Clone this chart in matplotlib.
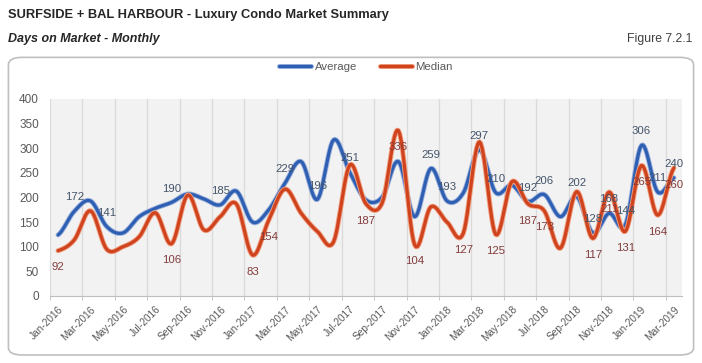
import matplotlib
matplotlib.use("Agg")
import matplotlib.pyplot as plt
import matplotlib.patheffects as pe
from matplotlib.patches import FancyBboxPatch
import numpy as np

plt.rcParams['font.family'] = ['Liberation Sans', 'DejaVu Sans']

# ---------------- data ----------------
months = ['Jan-2016', 'Feb-2016', 'Mar-2016', 'Apr-2016', 'May-2016', 'Jun-2016',
          'Jul-2016', 'Aug-2016', 'Sep-2016', 'Oct-2016', 'Nov-2016', 'Dec-2016',
          'Jan-2017', 'Feb-2017', 'Mar-2017', 'Apr-2017', 'May-2017', 'Jun-2017',
          'Jul-2017', 'Aug-2017', 'Sep-2017', 'Oct-2017', 'Nov-2017', 'Dec-2017',
          'Jan-2018', 'Feb-2018', 'Mar-2018', 'Apr-2018', 'May-2018', 'Jun-2018',
          'Jul-2018', 'Aug-2018', 'Sep-2018', 'Oct-2018', 'Nov-2018', 'Dec-2018',
          'Jan-2019', 'Feb-2019', 'Mar-2019']

average = [124, 172, 193, 141, 128, 161, 178, 190, 207, 197,
           185, 213, 150, 175, 229, 273, 196, 317, 251, 195,
           201, 273, 161, 259, 193, 209, 297, 210, 225, 192,
           206, 161, 202, 128, 168, 144, 306, 211, 240]

median = [92, 114, 173, 95, 100, 120, 169, 106, 205, 134,
          161, 187, 83, 154, 217, 168, 131, 110, 266, 187,
          189, 336, 104, 181, 150, 127, 313, 125, 232, 187,
          173, 97, 212, 117, 211, 131, 265, 164, 260]

# which points carry a data label
avg_labelled = [1, 3, 7, 10, 14, 16, 18, 23, 24, 26, 27, 29, 30, 32, 33, 34, 35, 36, 37, 38]
med_labelled = [0, 7, 12, 13, 19, 21, 22, 25, 27, 29, 30, 33, 34, 35, 36, 37, 38]


def smooth(y, n=12):
    # catmull-rom through the points, like excel's smoothed line
    y = np.asarray(y, dtype=float)
    p = np.concatenate([[y[0]], y, [y[-1]]])
    xs, ys = [], []
    for i in range(len(y) - 1):
        p0, p1, p2, p3 = p[i], p[i + 1], p[i + 2], p[i + 3]
        t = np.linspace(0, 1, n, endpoint=False)
        seg = 0.5 * ((2 * p1) + (-p0 + p2) * t + (2 * p0 - 5 * p1 + 4 * p2 - p3) * t ** 2
                     + (-p0 + 3 * p1 - 3 * p2 + p3) * t ** 3)
        xs.append(i + t)
        ys.append(seg)
    xs.append([len(y) - 1])
    ys.append([y[-1]])
    return np.concatenate(xs), np.concatenate(ys)


blue = '#2f5fb3'
red = '#d0431f'

fig = plt.figure(figsize=(7.02, 3.63), dpi=100)

# outer frame
frame = FancyBboxPatch((0.012, 0.022), 0.976, 0.82, boxstyle="round,pad=0,rounding_size=0.02",
                       transform=fig.transFigure, fill=False, edgecolor='#bfbfbf', linewidth=1.2)
fig.patches.append(frame)

fig.text(0.011, 0.958, 'SURFSIDE + BAL HARBOUR - Luxury Condo Market Summary', fontsize=9.3,
         fontweight='bold', color='#262626', va='center')
fig.text(0.011, 0.893, 'Days on Market - Monthly', fontsize=9, fontweight='bold', style='italic',
         color='#262626', va='center')
fig.text(0.986, 0.893, 'Figure 7.2.1', fontsize=8.8, color='#404040', va='center', ha='right')

ax = fig.add_axes([0.0712, 0.1846, 0.9003, 0.5427])
ax.set_facecolor('#f2f2f2')

x = np.arange(len(months))
sx, sy = smooth(average)
ax.plot(sx, sy, color=blue, lw=2.3, label='Average', solid_capstyle='round',
        path_effects=[pe.Stroke(linewidth=3.6, foreground='#9db3dc'), pe.Normal()])
sx, sy = smooth(median)
ax.plot(sx, sy, color=red, lw=2.3, label='Median', solid_capstyle='round',
        path_effects=[pe.Stroke(linewidth=3.6, foreground='#f0a080'), pe.Normal()])

for i in avg_labelled:
    ax.annotate(str(average[i]), (x[i], average[i]), xytext=(0, 10), textcoords='offset points',
                ha='center', va='center', fontsize=8.2, color='#44546a')
for i in med_labelled:
    ax.annotate(str(median[i]), (x[i], median[i]), xytext=(0, -12), textcoords='offset points',
                ha='center', va='center', fontsize=8.2, color='#843c3c')

ax.set_xlim(-0.5, len(months) - 0.5)
ax.set_ylim(0, 400)
ax.set_yticks(range(0, 401, 50))
ax.set_xticks(x[::2])
ax.set_xticklabels(months[::2], rotation=45, ha='right', rotation_mode='anchor',
                   fontsize=7.3, color='#595959')
ax.set_xticks(np.arange(-0.5, len(months), 2), minor=True)
ax.tick_params(axis='x', which='major', length=0, pad=6)
ax.tick_params(axis='x', which='minor', length=3, color='#bfbfbf')
ax.tick_params(axis='y', length=0, labelsize=8.5, labelcolor='#595959', pad=8)
ax.grid(axis='x', which='minor', color='#dadada', linewidth=0.9)
for s in ['top', 'right', 'left']:
    ax.spines[s].set_visible(False)
ax.spines['bottom'].set_color('#bfbfbf')

ax.legend(loc='center', bbox_to_anchor=(0.5, 1.163), ncol=2, frameon=False, fontsize=8.2,
          labelcolor='#595959', handlelength=2.8, columnspacing=2.0, handletextpad=0.3)

fig.savefig('out.png', dpi=100)
